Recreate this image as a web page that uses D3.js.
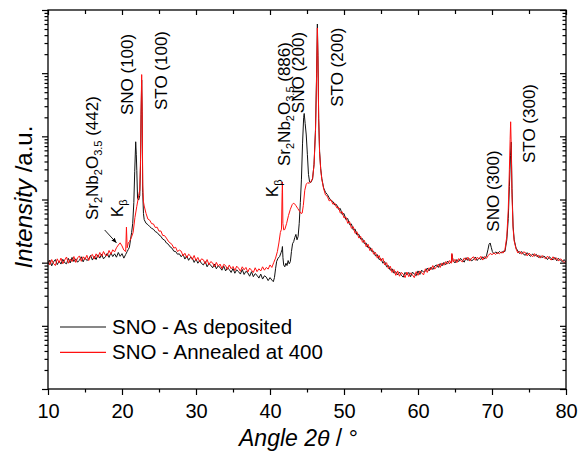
<!DOCTYPE html>
<html>
<head>
<meta charset="utf-8">
<script src="https://cdn.jsdelivr.net/npm/d3@7"></script>
<style>
  body { margin: 0; background: #fff; }
  text { font-family: "Liberation Sans", Arial, sans-serif; fill: #000; }
</style>
</head>
<body>
<svg id="chart" width="579" height="455"></svg>
<script>
// XRD scans: [2θ (deg), intensity (counts)]
const asDeposited = [
  [10,94],[10.25,110],[10.5,89],[10.75,103],[11,112],[11.25,93],[11.5,106],[11.75,95],[12,113],[12.25,100],
  [12.5,96],[12.75,117],[13,99],[13.25,121],[13.5,104],[13.75,115],[14,102],[14.25,109],[14.5,124],[14.75,103],
  [15,120],[15.25,108],[15.5,114],[15.75,130],[16,110],[16.25,126],[16.5,112],[16.75,133],[17,118],[17.25,136],
  [17.5,115],[17.75,124],[18,140],[18.25,121],[18.5,143],[18.75,125],[19,138],[19.25,122],[19.5,145],[19.75,126],
  [20,139],[20.25,118],[20.5,135],[20.7,150],[20.85,162],[21,175],[21.15,230],[21.3,300],[21.45,420],[21.6,900],
  [21.72,2800],[21.85,8200],[21.93,5200],[22,2900],[22.1,1050],[22.25,980],[22.4,1150],[22.5,3400],[22.58,22000],[22.66,78000],
  [22.72,25000],[22.8,1300],[22.9,600],[23,480],[23.25,420],[23.5,400],[23.75,372],[24,350],[24.25,338],[24.5,310],
  [24.75,300],[25,275],[25.25,262],[25.5,236],[25.75,228],[26,205],[26.25,196],[26.5,178],[26.75,170],[27,152],
  [27.25,150],[27.5,136],[27.75,138],[28,124],[28.25,135],[28.5,114],[28.75,128],[29,109],[29.25,121],[29.5,118],
  [29.75,101],[30,114],[30.25,98],[30.5,108],[30.75,97],[31,92],[31.25,104],[31.5,86],[31.75,97],[32,91],
  [32.25,83],[32.5,95],[32.75,80],[33,89],[33.25,84],[33.5,76],[33.75,88],[34,74],[34.25,83],[34.5,78],
  [34.75,70],[35,81],[35.25,68],[35.5,77],[35.75,72],[36,66],[36.25,78],[36.5,65],[36.75,73],[37,69],
  [37.25,61],[37.5,72],[37.75,60],[38,67],[38.25,63],[38.5,57],[38.75,66],[39,55],[39.25,62],[39.5,59],
  [39.75,52],[40,58],[40.25,53],[40.45,50],[40.6,58],[40.75,80],[40.9,105],[41.1,118],[41.3,125],[41.5,145],
  [41.62,160],[41.68,180],[41.75,120],[41.85,92],[42,86],[42.15,98],[42.3,90],[42.45,108],[42.6,96],[42.75,104],
  [42.9,150],[43.05,200],[43.2,215],[43.35,250],[43.5,280],[43.65,230],[43.8,260],[43.95,420],[44.1,900],[44.25,2100],
  [44.4,7800],[44.55,20000],[44.62,23000],[44.75,16000],[44.9,10500],[45.05,5200],[45.2,2500],[45.35,1900],[45.5,1850],[45.75,2100],
  [45.95,3600],[46.15,13000],[46.3,100000],[46.4,600000],[46.48,190000],[46.58,19000],[46.7,5800],[46.85,3100],[47,2150],[47.25,1520],
  [47.5,1300],[47.75,1200],[48,1060],[48.25,960],[48.5,930],[48.75,820],[49,830],[49.25,700],[49.5,720],[49.75,580],
  [50,600],[50.25,480],[50.5,500],[50.75,400],[51,410],[51.25,330],[51.5,340],[51.75,275],[52,282],[52.25,236],
  [52.5,240],[52.75,200],[53,204],[53.25,172],[53.5,176],[53.75,150],[54,152],[54.25,128],[54.5,134],[54.75,112],
  [55,116],[55.25,98],[55.5,104],[55.75,86],[56,90],[56.25,76],[56.5,80],[56.75,68],[57,72],[57.25,64],
  [57.5,71],[57.75,63],[58,59],[58.25,70],[58.5,64],[58.75,70],[59,60],[59.25,71],[59.5,66],[59.75,62],
  [60,74],[60.25,65],[60.5,76],[60.75,71],[61,73],[61.25,82],[61.5,74],[61.75,85],[62,78],[62.25,88],
  [62.5,92],[62.75,84],[63,97],[63.25,89],[63.5,101],[63.75,93],[64,106],[64.25,97],[64.5,103],[64.58,135],
  [64.75,108],[65,99],[65.25,112],[65.5,104],[65.75,117],[66,109],[66.25,102],[66.5,120],[66.75,108],[67,116],
  [67.25,107],[67.5,112],[67.75,123],[68,108],[68.25,119],[68.5,112],[68.75,124],[69,114],[69.25,128],[69.45,160],
  [69.6,195],[69.75,205],[69.9,175],[70.05,150],[70.25,138],[70.5,148],[70.75,140],[71,150],[71.25,142],[71.5,152],
  [71.75,150],[72,230],[72.2,500],[72.35,1600],[72.5,5000],[72.6,8100],[72.7,1500],[72.85,380],[73,230],[73.25,170],
  [73.5,153],[73.75,139],[74,150],[74.25,136],[74.5,131],[74.75,144],[75,132],[75.25,126],[75.5,138],[75.75,127],
  [76,135],[76.25,121],[76.5,129],[76.75,120],[77,127],[77.25,121],[77.5,112],[77.75,124],[78,116],[78.25,111],
  [78.5,121],[78.75,107],[79,117],[79.25,109],[79.5,104],[79.75,112],[80,101]
];

const annealed = [
  [10,108],[10.25,92],[10.5,112],[10.75,97],[11,90],[11.25,115],[11.5,100],[11.75,118],[12,96],[12.25,110],
  [12.5,123],[12.75,98],[13,114],[13.25,104],[13.5,125],[13.75,101],[14,119],[14.25,128],[14.5,105],[14.75,124],
  [15,112],[15.25,131],[15.5,108],[15.75,127],[16,135],[16.25,114],[16.5,138],[16.75,121],[17,145],[17.25,126],
  [17.5,150],[17.75,132],[18,128],[18.25,156],[18.5,136],[18.75,160],[19,148],[19.25,172],[19.5,190],[19.75,206],
  [20,184],[20.25,158],[20.5,150],[20.6,365],[20.7,172],[20.85,205],[21,215],[21.25,248],[21.5,300],[21.75,520],
  [22,780],[22.15,980],[22.3,1250],[22.4,1400],[22.5,4200],[22.58,26000],[22.66,95000],[22.72,30000],[22.8,1700],[22.9,920],
  [23,790],[23.25,600],[23.5,490],[23.75,470],[24,415],[24.25,410],[24.5,360],[24.75,365],[25,315],[25.25,318],
  [25.5,270],[25.75,268],[26,245],[26.25,220],[26.5,205],[26.75,195],[27,170],[27.25,175],[27.5,150],[27.75,158],
  [28,152],[28.25,128],[28.5,141],[28.75,119],[29,136],[29.25,128],[29.5,112],[29.75,130],[30,108],[30.25,121],
  [30.5,103],[30.75,115],[31,111],[31.25,96],[31.5,112],[31.75,93],[32,104],[32.25,99],[32.5,86],[32.75,101],
  [33,88],[33.25,95],[33.5,81],[33.75,94],[34,90],[34.25,78],[34.5,92],[34.75,80],[35,87],[35.25,75],
  [35.5,88],[35.75,82],[36,73],[36.25,86],[36.5,77],[36.75,84],[37,71],[37.25,82],[37.5,76],[37.75,70],
  [38,83],[38.25,72],[38.5,80],[38.75,74],[39,86],[39.25,76],[39.5,84],[39.75,79],[40,92],[40.25,84],
  [40.5,100],[40.75,118],[41,150],[41.2,205],[41.4,300],[41.55,340],[41.64,1300],[41.68,1900],[41.74,420],[41.85,330],
  [42,335],[42.25,420],[42.5,560],[42.75,700],[43,830],[43.15,870],[43.3,860],[43.5,800],[43.75,720],[44,650],
  [44.2,600],[44.35,610],[44.5,800],[44.7,1400],[44.9,1750],[45.1,1850],[45.3,1800],[45.5,1900],[45.75,2150],[45.95,3500],
  [46.15,12000],[46.3,90000],[46.4,520000],[46.48,180000],[46.58,18000],[46.7,5500],[46.85,3000],[47,2100],[47.25,1480],[47.5,1180],
  [47.75,1120],[48,950],[48.25,990],[48.5,840],[48.75,880],[49,740],[49.25,760],[49.5,610],[49.75,640],[50,510],
  [50.25,530],[50.5,420],[50.75,450],[51,350],[51.25,372],[51.5,290],[51.75,310],[52,245],[52.25,262],[52.5,210],
  [52.75,226],[53,178],[53.25,196],[53.5,155],[53.75,168],[54,136],[54.25,146],[54.5,118],[54.75,130],[55,106],
  [55.25,118],[55.5,92],[55.75,100],[56,80],[56.25,88],[56.5,70],[56.75,78],[57,63],[57.25,74],[57.5,61],
  [57.75,70],[58,66],[58.25,58],[58.5,71],[58.75,60],[59,69],[59.25,64],[59.5,58],[59.75,72],[60,63],
  [60.25,74],[60.5,69],[60.75,64],[61,80],[61.25,70],[61.5,83],[61.75,77],[62,90],[62.25,79],[62.5,86],
  [62.75,95],[63,84],[63.25,99],[63.5,91],[63.75,104],[64,95],[64.25,108],[64.5,98],[64.58,140],[64.75,102],
  [65,113],[65.25,100],[65.5,116],[65.75,108],[66,103],[66.25,119],[66.5,110],[66.75,122],[67,106],[67.25,118],
  [67.5,124],[67.75,109],[68,121],[68.25,115],[68.5,126],[68.75,110],[69,125],[69.25,117],[69.5,130],[69.75,140],
  [70,134],[70.25,142],[70.5,135],[70.75,145],[71,138],[71.25,148],[71.5,142],[71.75,160],[72,260],[72.2,700],
  [72.35,3000],[72.45,9000],[72.52,17000],[72.6,7000],[72.7,1200],[72.85,350],[73,220],[73.25,165],[73.5,142],[73.75,152],
  [74,136],[74.25,148],[74.5,145],[74.75,128],[75,141],[75.25,133],[75.5,124],[75.75,139],[76,126],[76.25,131],
  [76.5,118],[76.75,130],[77,122],[77.25,114],[77.5,127],[77.75,117],[78,110],[78.25,124],[78.5,112],[78.75,119],
  [79,106],[79.25,115],[79.5,109],[79.75,100],[80,108]
];

const xMajorTicks = [10, 20, 30, 40, 50, 60, 70, 80];
const xMinorTicks = [15, 25, 35, 45, 55, 65, 75];
const yDecades = [1, 10, 100, 1000, 10000, 100000, 1000000];

// Peak annotations: rotated text, anchored at (2θ, intensity)
const peakLabels = [
  { parts: [["Sr"], ["2", "sub"], ["Nb"], ["2", "sub"], ["O"], ["3.5", "sub"], [" (442)"]], angle: 16.82, at: 473 },
  { parts: [["K"], ["β", "sub"]], angle: 20.2, at: 525 },
  { parts: [["SNO (100)"]], angle: 21.55, at: 21700 },
  { parts: [["STO (100)"]], angle: 26.08, at: 26100 },
  { parts: [["K"], ["β", "sub"]], angle: 41.08, at: 1090 },
  { parts: [["Sr"], ["2", "sub"], ["Nb"], ["2", "sub"], ["O"], ["3.5", "sub"], [" (886)"]], angle: 42.64, at: 3390 },
  { parts: [["SNO (200)"]], angle: 44.53, at: 23300 },
  { parts: [["STO (200)"]], angle: 49.93, at: 29400 },
  { parts: [["SNO (300)"]], angle: 70.88, at: 310 },
  { parts: [["STO (300)"]], angle: 75.81, at: 3780 }
];

// Arrow pointing at the weak Sr2Nb2O3.5 (442) reflection
const arrowFrom = [17.66, 329];
const arrowTo = [19.23, 207];

const seriesNames = ["SNO - As deposited", "SNO - Annealed at 400"];
const seriesColors = ["#111111", "#ff1010"];

const svg = d3.select("#chart");
const plot = { left: 48, right: 566, top: 10, bottom: 389 };

const x = d3.scaleLinear().domain([10, 80]).range([plot.left, plot.right]);
const y = d3.scaleLog().domain([1, 1e6]).range([plot.bottom, plot.top]);

// minor ticks for the log axis: 2..9 within each decade
const yMinorTicks = [];
yDecades.slice(0, -1).forEach(d => { for (let k = 2; k <= 9; k++) yMinorTicks.push(d * k); });

svg.append("defs").append("clipPath").attr("id", "plotClip")
  .append("rect")
  .attr("x", plot.left).attr("y", plot.top)
  .attr("width", plot.right - plot.left).attr("height", plot.bottom - plot.top);

// Traces
const line = d3.line().x(d => x(d[0])).y(d => y(d[1]));
const traces = svg.append("g").attr("clip-path", "url(#plotClip)");
[asDeposited, annealed].forEach((s, i) => {
  traces.append("path")
    .datum(s)
    .attr("d", line)
    .attr("fill", "none")
    .attr("stroke", seriesColors[i])
    .attr("stroke-width", 1)
    .attr("stroke-linejoin", "round");
});

// Axes: outward ticks bottom/left, inward ticks top/right
function styleAxis(g) {
  g.select(".domain").remove();
  g.selectAll("line").attr("stroke", "#000").attr("stroke-width", 1.2);
}
svg.append("g").attr("transform", `translate(0,${plot.bottom})`)
  .call(d3.axisBottom(x).tickValues(xMajorTicks).tickSize(6).tickPadding(9).tickFormat(d3.format("d")))
  .call(styleAxis)
  .call(g => g.selectAll("text").attr("font-size", 20).attr("font-family", "Liberation Sans, Arial, sans-serif"));
svg.append("g").attr("transform", `translate(0,${plot.bottom})`)
  .call(d3.axisBottom(x).tickValues(xMinorTicks).tickSize(3.5).tickFormat(""))
  .call(styleAxis);
svg.append("g").attr("transform", `translate(0,${plot.top})`)
  .call(d3.axisTop(x).tickValues(xMajorTicks).tickSize(-5).tickFormat(""))
  .call(styleAxis);
svg.append("g").attr("transform", `translate(0,${plot.top})`)
  .call(d3.axisTop(x).tickValues(xMinorTicks).tickSize(-4).tickFormat(""))
  .call(styleAxis);
svg.append("g").attr("transform", `translate(${plot.left},0)`)
  .call(d3.axisLeft(y).tickValues(yDecades).tickSize(6).tickFormat(""))
  .call(styleAxis);
svg.append("g").attr("transform", `translate(${plot.left},0)`)
  .call(d3.axisLeft(y).tickValues(yMinorTicks).tickSize(3.5).tickFormat(""))
  .call(styleAxis);
svg.append("g").attr("transform", `translate(${plot.right},0)`)
  .call(d3.axisRight(y).tickValues(yDecades).tickSize(-6).tickFormat(""))
  .call(styleAxis);
svg.append("g").attr("transform", `translate(${plot.right},0)`)
  .call(d3.axisRight(y).tickValues(yMinorTicks).tickSize(-3.5).tickFormat(""))
  .call(styleAxis);

svg.append("rect")
  .attr("x", plot.left).attr("y", plot.top)
  .attr("width", plot.right - plot.left).attr("height", plot.bottom - plot.top)
  .attr("fill", "none").attr("stroke", "#000").attr("stroke-width", 1.3);

// Axis titles
const xTitle = svg.append("text").attr("x", 239).attr("y", 446).attr("font-size", 23);
xTitle.append("tspan").attr("font-style", "italic").text("Angle 2θ");
xTitle.append("tspan").text(" / °");

const yTitle = svg.append("text")
  .attr("transform", "translate(32,197) rotate(-90)")
  .attr("text-anchor", "middle").attr("font-size", 24);
yTitle.append("tspan").attr("font-style", "italic").text("Intensity");
yTitle.append("tspan").text(" /a.u.");

// Peak labels
peakLabels.forEach(p => {
  const t = svg.append("text")
    .attr("transform", `translate(${x(p.angle)},${y(p.at)}) rotate(-90)`)
    .attr("font-size", 17);
  let shifted = false;
  p.parts.forEach(([str, kind]) => {
    const ts = t.append("tspan").text(str);
    if (kind === "sub") {
      ts.attr("font-size", 11).attr("dy", shifted ? 0 : 4);
      shifted = true;
    } else {
      if (shifted) ts.attr("dy", -4);
      shifted = false;
    }
  });
});

// Arrow
svg.append("defs").append("marker")
  .attr("id", "arrowHead").attr("viewBox", "0 0 10 10")
  .attr("refX", 9).attr("refY", 5)
  .attr("markerWidth", 6).attr("markerHeight", 6)
  .attr("orient", "auto")
  .append("path").attr("d", "M0,1 L10,5 L0,9 Z").attr("fill", "#000");
svg.append("line")
  .attr("x1", x(arrowFrom[0])).attr("y1", y(arrowFrom[1]))
  .attr("x2", x(arrowTo[0])).attr("y2", y(arrowTo[1]))
  .attr("stroke", "#000").attr("stroke-width", 0.9)
  .attr("marker-end", "url(#arrowHead)");

// Legend
const legend = svg.append("g").attr("transform", "translate(60,327)");
seriesNames.forEach((name, i) => {
  const row = legend.append("g").attr("transform", `translate(0,${i * 25.4})`);
  row.append("line").attr("x1", 0).attr("x2", 46).attr("y1", 0).attr("y2", 0)
    .attr("stroke", seriesColors[i]).attr("stroke-width", 1.2);
  row.append("text").attr("x", 52).attr("y", 7).attr("font-size", 20.5).text(name);
});
</script>
</body>
</html>
